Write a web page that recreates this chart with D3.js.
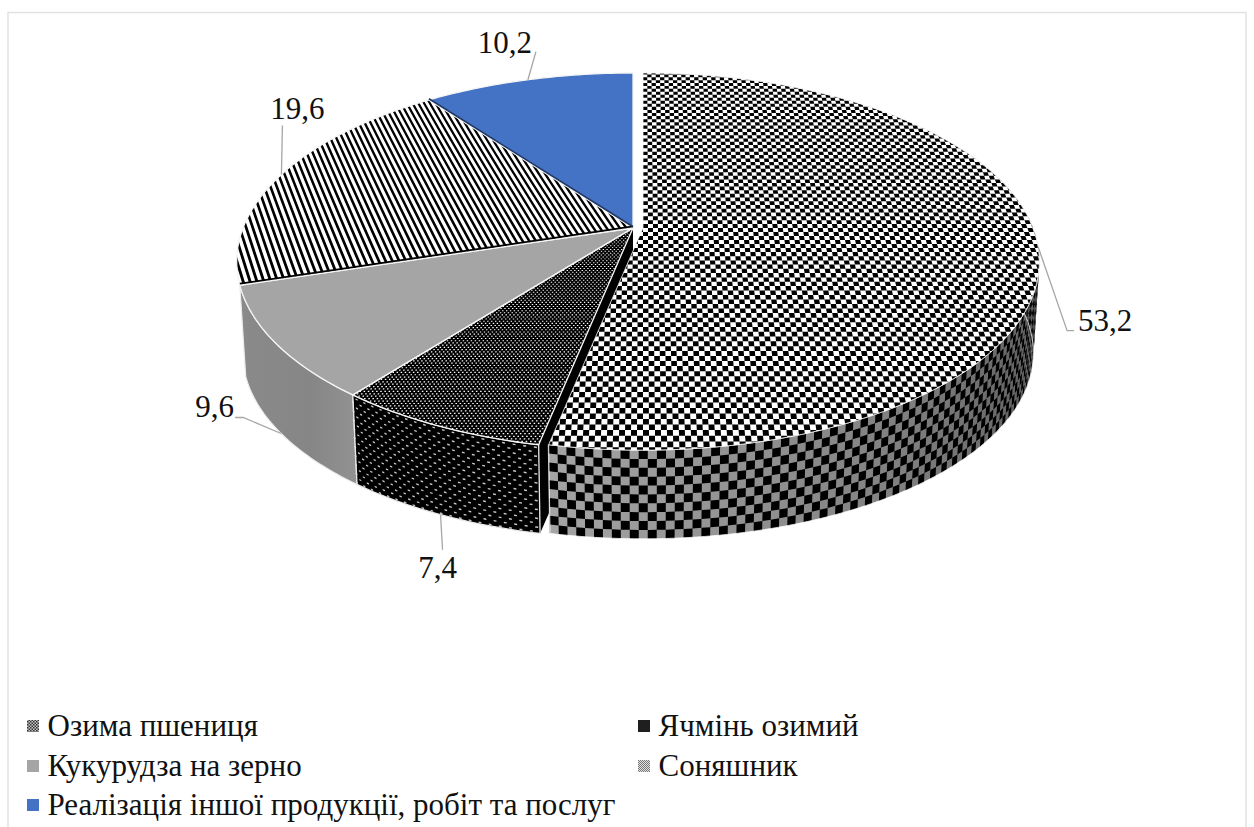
<!DOCTYPE html>
<html lang="uk">
<head>
<meta charset="utf-8">
<title>Структура виручки</title>
<script src="https://cdn.jsdelivr.net/npm/d3@7/dist/d3.min.js"></script>
<style>
  html, body { margin: 0; padding: 0; background: #fff; }
  svg { display: block; }
  text { font-family: "Liberation Serif", serif; fill: #111; }
</style>
</head>
<body>
<svg id="chart" width="1254" height="827"></svg>
<script>
// Chart data
const sliceNames = ["Озима пшениця", "Ячмінь озимий", "Кукурудза на зерно", "Соняшник", "Реалізація іншої продукції, робіт та послуг"];
const sliceValues = [53.2, 7.4, 9.6, 19.6, 10.2];

// Pie geometry: a tilted disc in perspective, with a lower rim for the wall
const baseX = 633, topY = 228, bottomY = 320;
const radiusX = 390, radiusY = 182.6, tilt = 0.178, rimScale = 0.985;
const explodeX = [10, 0, 0, 0, 0];

// Leader routes relative to each slice anchor, and label position
const leaderBends = [[[29, 84], [36, 84]], [[2, 35]], [[-38, -16], [-46, -16]], [[1, -49]], [[8, -28]]];
const labelShift = [[40, 84, "start"], [-3, 63, "middle"], [-47, -16, "end"], [16, -56, "middle"], [-23, -27, "middle"]];
const anchorOnRim = [false, true, true, false, false];

const svg = d3.select("#chart");
const defs = svg.append("defs");
const pieAngles = d3.pie().sort(null).value(d => d)(sliceValues);
const fmt = v => String(v).replace(".", ",");

// Map disc coordinates (u to the right, v to the back) onto the page
function project(u, v, onRim, shift) {
  const w = 1 + tilt * v, s = onRim ? rimScale : 1;
  return [baseX + shift + s * radiusX * u / w, (onRim ? bottomY : topY) - s * radiusY * v / w];
}
const polar = (a, onRim, shift) => project(Math.sin(a), Math.cos(a), onRim, shift);
const line = d3.line();
const quad = pts => line(pts) + "Z";

function topOutline(d, shift) {
  const n = Math.max(8, Math.ceil((d.endAngle - d.startAngle) * 60));
  const arc = d3.range(n + 1).map(i => polar(d.startAngle + (d.endAngle - d.startAngle) * i / n, false, shift));
  return quad([project(0, 0, false, shift), ...arc]);
}
function wallPoint(a, h, shift) {
  const t = polar(a, false, shift), b = polar(a, true, shift);
  return [t[0] + (b[0] - t[0]) * h, t[1] + (b[1] - t[1]) * h];
}
function wallOutline(a0, a1, shift) {
  const n = Math.ceil((a1 - a0) * 60);
  const as = d3.range(n + 1).map(i => a0 + (a1 - a0) * i / n);
  return quad([...as.map(a => wallPoint(a, 0, shift)), ...as.slice().reverse().map(a => wallPoint(a, 1, shift))]);
}

const pieLayer = svg.append("g");
const rad = d => d * Math.PI / 180;

// Cut face of the second slice, exposed by the pulled-out first slice
{
  const a = pieAngles[1].startAngle;
  pieLayer.append("path")
    .attr("d", quad([project(0, 0, false, 0), polar(a, false, 0), polar(a, true, 0), project(0, 0, true, 0)]))
    .attr("fill", "#000");
}

// Side walls ---------------------------------------------------------------
function drawCheckerWall(d, i) {
  const shift = explodeX[i], a0 = rad(60), a1 = d.endAngle;
  const g = pieLayer.append("g");
  const step = 0.0192, rows = 10;
  const grey = d3.scaleLinear().domain([rad(191), rad(150), rad(120), rad(60)])
    .range(["#a4a4a4", "#848484", "#666666", "#505050"]);
  const cols = Math.ceil((a1 - a0) / step);
  let blacks = "";
  for (let c = 0; c < cols; c++) {
    const hiA = a1 - c * step, loA = Math.max(a0, hiA - step);
    g.append("path")
      .attr("d", quad([wallPoint(loA, 0, shift), wallPoint(hiA + 0.002, 0, shift), wallPoint(hiA + 0.002, 1, shift), wallPoint(loA, 1, shift)]))
      .attr("fill", grey((loA + hiA) / 2));
    for (let r = 0; r < rows; r++) {
      if ((c + r) % 2) continue;
      blacks += quad([wallPoint(loA, r / rows, shift), wallPoint(hiA, r / rows, shift),
                      wallPoint(hiA, (r + 1) / rows, shift), wallPoint(loA, (r + 1) / rows, shift)]);
    }
  }
  g.append("path").attr("d", blacks).attr("fill", "#000");
  g.append("path").attr("d", wallOutline(a0, a1, shift)).attr("fill", "none").attr("stroke", "#fff").attr("stroke-width", 0.8);
}
function drawDottedWall(d, i) {
  const shift = explodeX[i], a0 = d.startAngle, a1 = d.endAngle;
  const g = pieLayer.append("g");
  g.append("path").attr("d", wallOutline(a0, a1, shift)).attr("fill", "#000");
  const dA = 0.0235, rows = 20;
  let dots = "";
  for (let r = 0; r < rows; r++) {
    const h = (r + 0.5) / rows;
    for (let a = a0 + (r % 2 ? dA * 0.5 : 0) + 0.004; a < a1; a += dA) {
      const w = dA * 0.14, t = 0.016;
      dots += quad([wallPoint(a, h, shift), wallPoint(a + 2 * w, h, shift), wallPoint(a + 2 * w, h + t, shift), wallPoint(a, h + t, shift)]);
    }
  }
  g.append("path").attr("d", dots).attr("fill", "#c8c8c8");
  g.append("path").attr("d", wallOutline(a0, a1, shift)).attr("fill", "none").attr("stroke", "#e8e8e8").attr("stroke-width", 1.3);
}
function drawPlainWall(d, i) {
  const id = "wallShade" + i;
  const grad = defs.append("linearGradient").attr("id", id);
  grad.append("stop").attr("offset", "0").attr("stop-color", "#8a8a8a");
  grad.append("stop").attr("offset", "0.6").attr("stop-color", "#868686");
  grad.append("stop").attr("offset", "1").attr("stop-color", "#929292");
  pieLayer.append("path").attr("d", wallOutline(d.startAngle, d.endAngle, explodeX[i]))
    .attr("fill", `url(#${id})`).attr("stroke", "#ececec").attr("stroke-width", 1.2);
}
drawPlainWall(pieAngles[2], 2);
drawDottedWall(pieAngles[1], 1);
drawCheckerWall(pieAngles[0], 0);

// Top faces ----------------------------------------------------------------
function clipFor(d, i) {
  const id = "topClip" + i;
  defs.append("clipPath").attr("id", id).append("path").attr("d", topOutline(d, explodeX[i]));
  return `url(#${id})`;
}
function drawCheckerTop(d, i) {
  const shift = explodeX[i], du = 0.0128, dv = 0.0215;
  const g = pieLayer.append("g").attr("clip-path", clipFor(d, i));
  g.append("path").attr("d", topOutline(d, shift)).attr("fill", "#fff");
  let cells = "";
  const nu = Math.ceil(1.02 / du), nv = Math.ceil(1.02 / dv), lowU = -Math.ceil(0.32 / du);
  for (let c = lowU; c < nu; c++) for (let r = -nv; r < nv; r++) {
    if ((c + r + 400) % 2) continue;
    const u0 = c * du, u1 = u0 + du, v0 = r * dv, v1 = v0 + dv;
    if (Math.min(Math.hypot(u0, v0), Math.hypot(u1, v0), Math.hypot(u0, v1), Math.hypot(u1, v1)) > 1) continue;
    cells += quad([project(u0, v0, false, shift), project(u1, v0, false, shift), project(u1, v1, false, shift), project(u0, v1, false, shift)]);
  }
  g.append("path").attr("d", cells).attr("fill", "#000");
}
function drawDottedTop(d, i) {
  const shift = explodeX[i], du = 0.0092, dv = 0.0098;
  const g = pieLayer.append("g").attr("clip-path", clipFor(d, i));
  g.append("path").attr("d", topOutline(d, shift)).attr("fill", "#000");
  let dots = "";
  for (let r = 0; r * dv < 1.02; r++) {
    const v0 = -r * dv;
    for (let u0 = -0.72 + (r % 2 ? du / 2 : 0); u0 < 0.02; u0 += du) {
      const u1 = u0 + du * 0.36, v1 = v0 + dv * 0.5;
      dots += quad([project(u0, v0, false, shift), project(u1, v0, false, shift), project(u1, v1, false, shift), project(u0, v1, false, shift)]);
    }
  }
  g.append("path").attr("d", dots).attr("fill", "#fff");
}
function drawStripedTop(d, i) {
  const shift = explodeX[i], period = 0.0168, lean = 0.33;
  const g = pieLayer.append("g").attr("clip-path", clipFor(d, i));
  g.append("path").attr("d", topOutline(d, shift)).attr("fill", "#fff");
  let bands = "";
  for (let t = -1.6; t < 0.8; t += period) {
    const u = (t2, v) => t2 - lean * v;
    const t2 = t + period * 0.44;
    bands += quad([project(u(t, -1.05), -1.05, false, shift), project(u(t2, -1.05), -1.05, false, shift),
                   project(u(t2, 1.05), 1.05, false, shift), project(u(t, 1.05), 1.05, false, shift)]);
  }
  g.append("path").attr("d", bands).attr("fill", "#000");
}
function drawPlainTop(d, i, colour) {
  pieLayer.append("path").attr("d", topOutline(d, explodeX[i])).attr("fill", colour);
}

drawStripedTop(pieAngles[3], 3);
drawPlainTop(pieAngles[4], 4, "#4472c4");
drawPlainTop(pieAngles[2], 2, "#a5a5a5");
drawDottedTop(pieAngles[1], 1);
drawCheckerTop(pieAngles[0], 0);

// Thin white rims along every top face
pieAngles.forEach((d, i) => {
  pieLayer.append("path").attr("d", topOutline(d, explodeX[i]))
    .attr("fill", "none").attr("stroke", "#f4f4f4").attr("stroke-width", i === 0 ? 0.8 : 1.3);
});

// Dark creases on the boundaries between the back slices
function crease(a, colour, width, dy) {
  const p0 = project(0, 0, false, 0), p1 = polar(a, false, 0);
  pieLayer.append("line").attr("x1", p0[0]).attr("y1", p0[1] + dy).attr("x2", p1[0]).attr("y2", p1[1] + dy)
    .attr("stroke", colour).attr("stroke-width", width);
}
crease(pieAngles[3].startAngle, "#000", 1.8, -1.6);
crease(pieAngles[4].startAngle, "#1f3864", 1.6, -1.2);

// Leader lines and value labels --------------------------------------------
const labelLayer = svg.append("g");
pieAngles.forEach((d, i) => {
  const mid = (d.startAngle + d.endAngle) / 2;
  const start = polar(mid, anchorOnRim[i], explodeX[i]);
  const pts = [start, ...leaderBends[i].map(b => [start[0] + b[0], start[1] + b[1]])];
  labelLayer.append("path").attr("d", line(pts)).attr("fill", "none")
    .attr("stroke", "#a6a6a6").attr("stroke-width", 1.3);
  labelLayer.append("text")
    .attr("x", start[0] + labelShift[i][0]).attr("y", start[1] + labelShift[i][1])
    .attr("text-anchor", labelShift[i][2]).attr("font-size", 31)
    .text(fmt(sliceValues[i]));
});

// Legend -------------------------------------------------------------------
const legendPos = [[27, 736], [638, 736], [27, 776], [638, 776], [27, 815]];
const addPattern = (id, size, base, ink, rects) => {
  const p = defs.append("pattern").attr("id", id).attr("patternUnits", "userSpaceOnUse").attr("width", size).attr("height", size);
  p.append("rect").attr("width", size).attr("height", size).attr("fill", base);
  rects.forEach(r => p.append("rect").attr("x", r[0]).attr("y", r[1]).attr("width", r[2]).attr("height", r[2]).attr("fill", ink));
};
addPattern("swatchChecker", 3, "#c4c4c4", "#333", [[0, 0, 1.5], [1.5, 1.5, 1.5]]);
addPattern("swatchFine", 2, "#e0e0e0", "#777", [[0, 0, 1], [1, 1, 1]]);
const legendFill = ["url(#swatchChecker)", "#1f1f1f", "#a5a5a5", "url(#swatchFine)", "#4472c4"];
const legend = svg.append("g").selectAll("g").data(sliceNames).join("g")
  .attr("transform", (d, i) => `translate(${legendPos[i][0]},${legendPos[i][1]})`);
legend.append("rect").attr("x", 0).attr("y", -16).attr("width", 12).attr("height", 12).attr("fill", (d, i) => legendFill[i]);
legend.append("text").attr("x", 20.5).attr("font-size", 31).text(d => d);

// Chart frame, cut by the lower edge of the page
svg.append("rect").attr("x", 8).attr("y", 12.5).attr("width", 1238).attr("height", 830)
  .attr("fill", "none").attr("stroke", "#e2e2e2").attr("stroke-width", 1.5);
</script>
</body>
</html>
